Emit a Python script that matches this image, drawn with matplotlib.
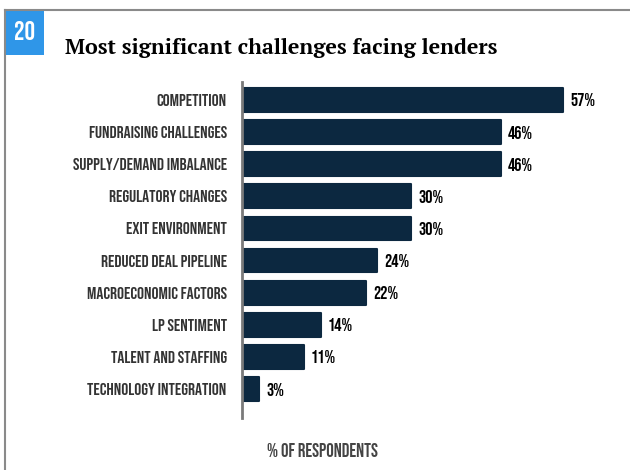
import matplotlib
matplotlib.use("Agg")
import matplotlib.pyplot as plt
from matplotlib.patches import Rectangle
from matplotlib.lines import Line2D
from matplotlib.transforms import offset_copy

categories = [
    "COMPETITION",
    "FUNDRAISING CHALLENGES",
    "SUPPLY/DEMAND IMBALANCE",
    "REGULATORY CHANGES",
    "EXIT ENVIRONMENT",
    "REDUCED DEAL PIPELINE",
    "MACROECONOMIC FACTORS",
    "LP SENTIMENT",
    "TALENT AND STAFFING",
    "TECHNOLOGY INTEGRATION",
]
values = [57, 46, 46, 30, 30, 24, 22, 14, 11, 3]

NAVY = "#0c2840"
COND = ["Bebas Neue", "DejaVu Sans"]
SERIF = ["PT Serif", "DejaVu Serif"]

W, H = 630, 470
fig = plt.figure(figsize=(W / 100, H / 100), dpi=100)

# panel frame and figure-number badge
fig.add_artist(Line2D([5 / W, 1], [1 - 10 / H, 1 - 10 / H], color="#8a8a8a", lw=1.5))
fig.add_artist(Line2D([5 / W, 5 / W], [0, 1 - 10 / H], color="#8a8a8a", lw=1.5))
fig.add_artist(Rectangle((5 / W, 1 - 55 / H), 39 / W, 44 / H, color="#2f96e8", lw=0))
fig.text(24 / W, 1 - 31 / H, "20", color="white", fontsize=19,
         family=COND, ha="center", va="center")
fig.text(65 / W, 1 - 54 / H, "Most significant challenges facing lenders",
         family=SERIF, fontweight="bold", fontsize=15.5, va="baseline")

ax = fig.add_axes([242 / W, 1 - 418 / H, (W - 242) / W, 336 / H])
y = list(range(len(categories)))
ax.barh(y, values, height=0.74, color=NAVY, edgecolor=NAVY, linewidth=1.5,
        joinstyle="round")
ax.set_xlim(0, 68.9)
ax.set_ylim(9.9, -0.56)

# value labels a few pixels past each bar end
lbl_tr = offset_copy(ax.transData, fig=fig, x=7, y=0, units="dots")
for yi, v in zip(y, values):
    ax.text(v, yi, f"{v}%", va="center", ha="left", fontsize=13,
            family=COND, color="#000000", transform=lbl_tr)

ax.set_yticks(y)
ax.set_yticklabels(categories, family=COND, fontsize=12.5, color="#333333")
ax.tick_params(axis="y", length=0, pad=11)
ax.set_xticks([])
for s in ["top", "right", "bottom"]:
    ax.spines[s].set_visible(False)
ax.spines["left"].set_color("#7a7a7a")
ax.spines["left"].set_linewidth(2)

fig.text(322 / W, 1 - 450 / H, "% OF RESPONDENTS", ha="center", va="center",
         fontsize=13.5, family=COND, color="#444444")

fig.savefig("out.png", dpi=100)
